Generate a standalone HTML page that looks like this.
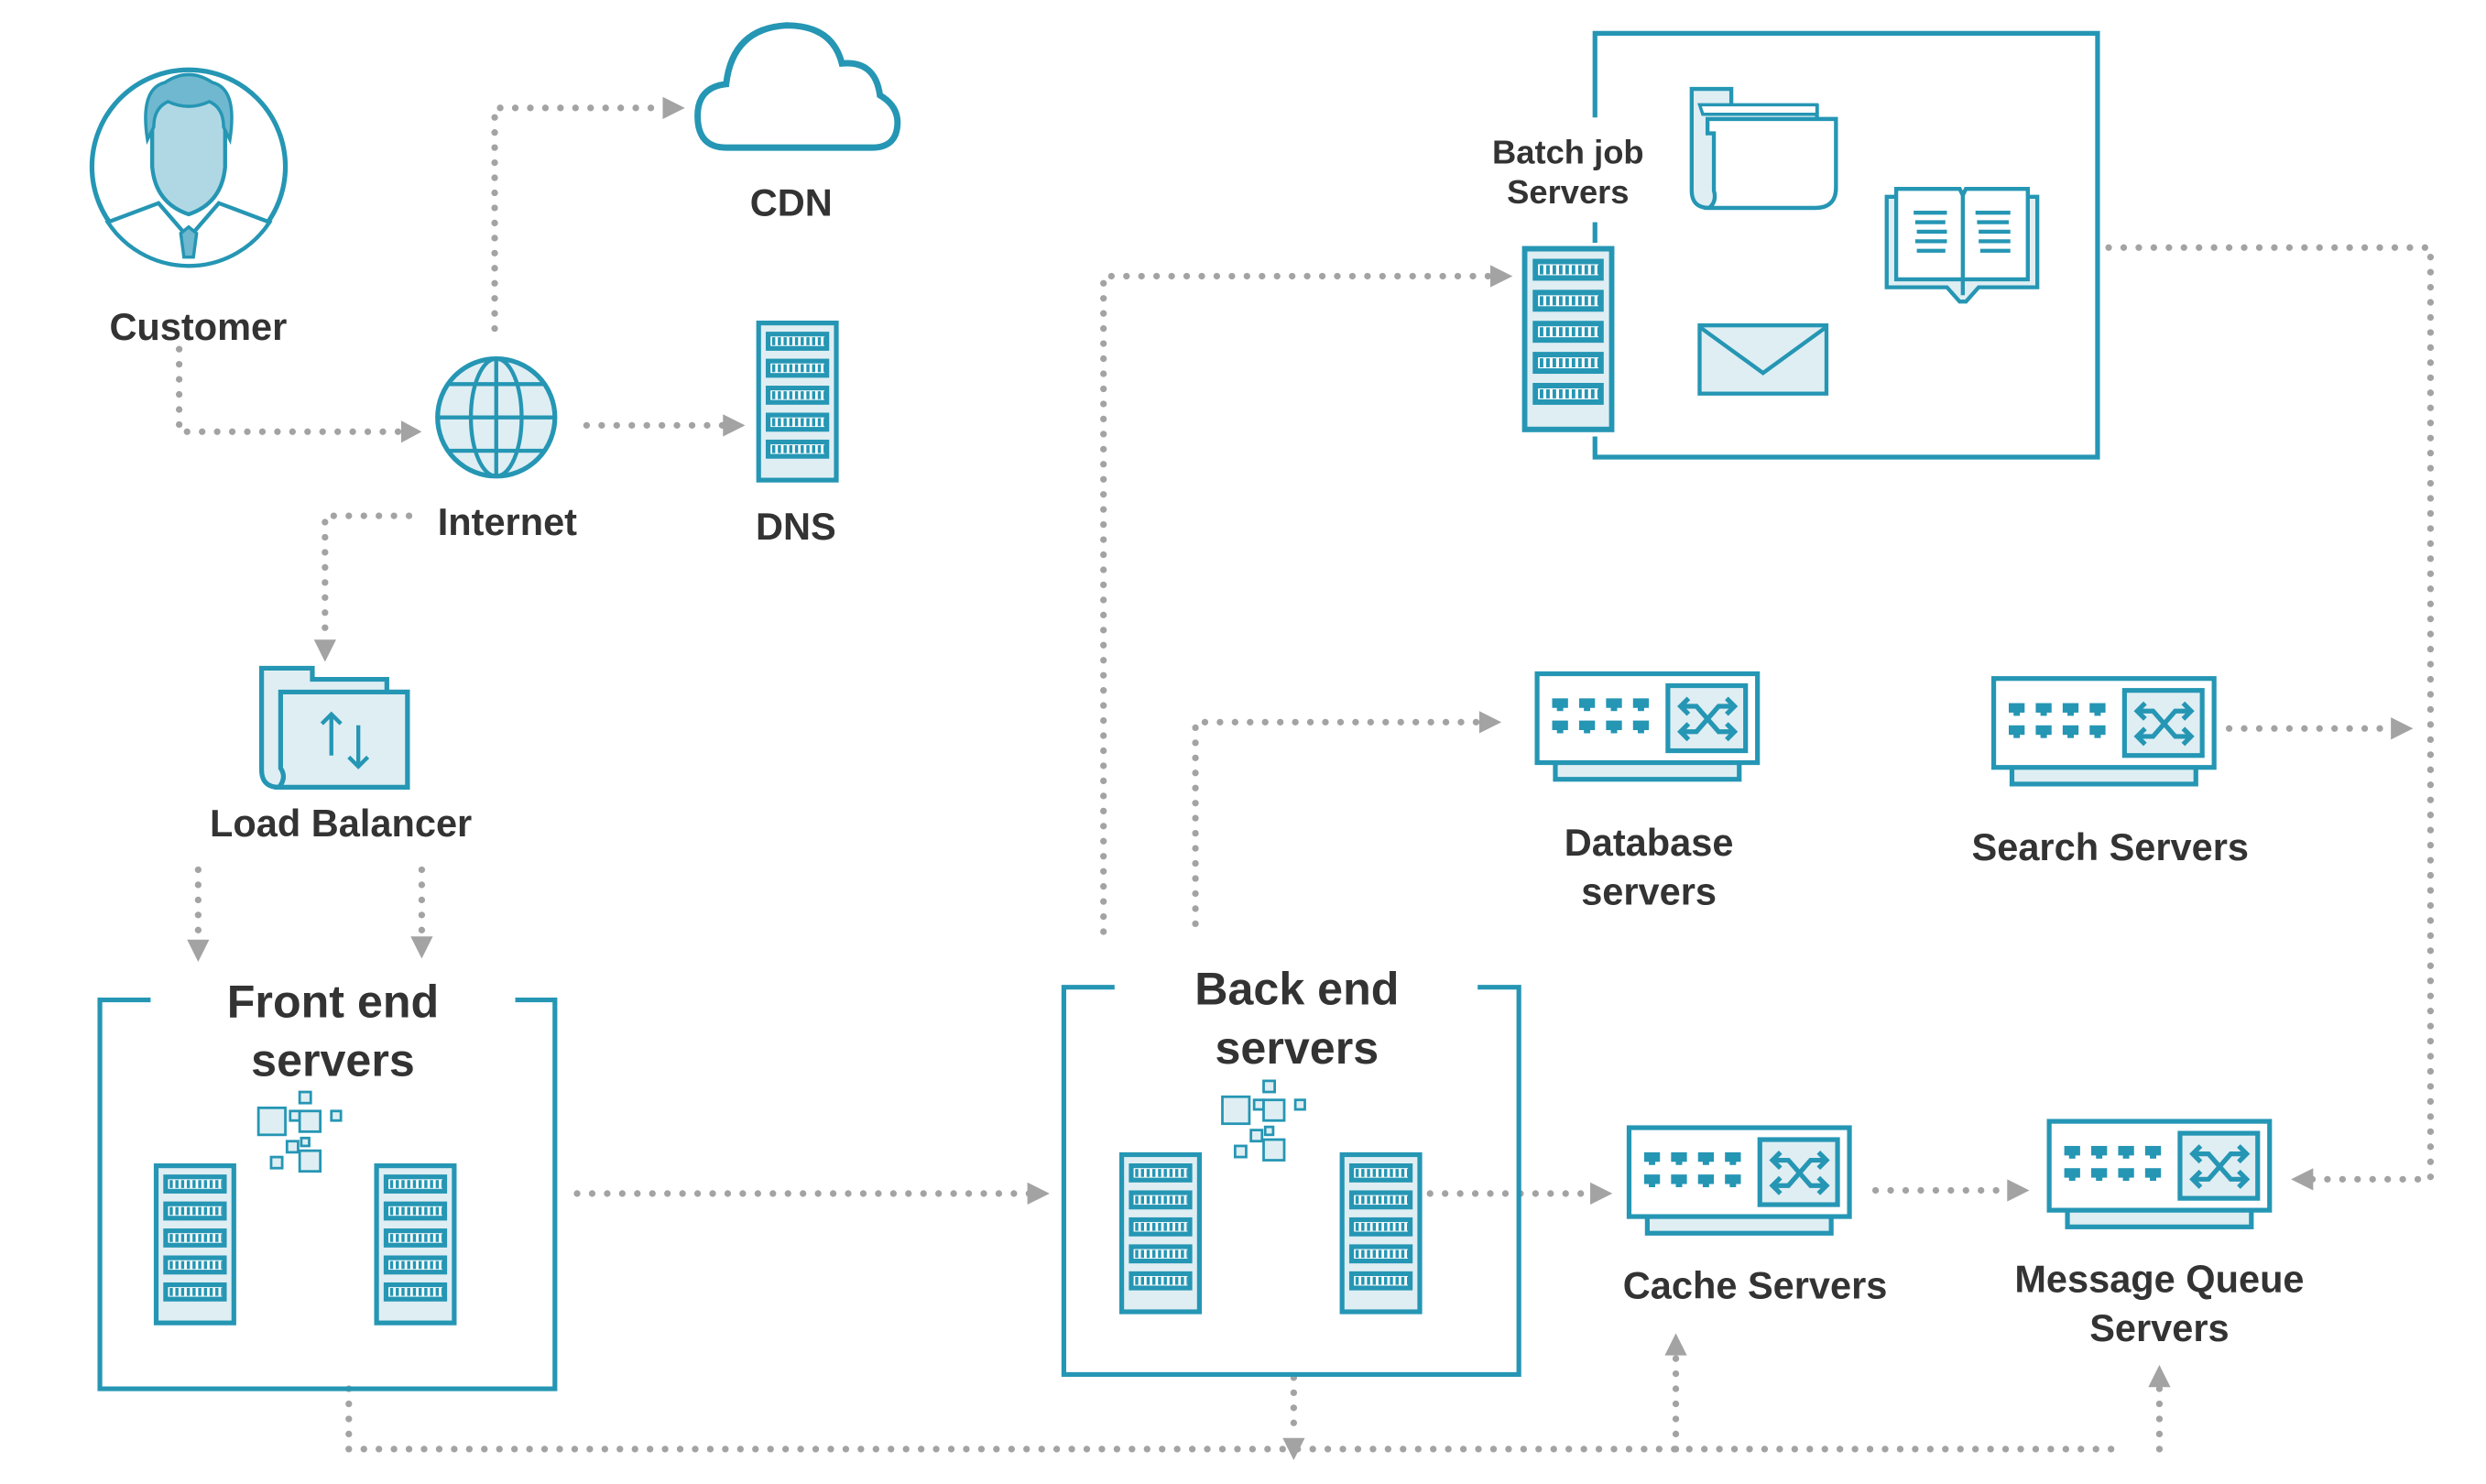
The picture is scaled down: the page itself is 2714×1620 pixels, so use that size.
<!DOCTYPE html>
<html><head><meta charset="utf-8"><style>
html,body{margin:0;padding:0;background:#fff;}
svg{display:block;}
text{font-family:"Liberation Sans",sans-serif;font-weight:bold;fill:#333;text-anchor:middle;}
</style></head><body>
<svg width="2714" height="1620" viewBox="0 0 1568 935" preserveAspectRatio="none" xmlns="http://www.w3.org/2000/svg">
<defs>
<g id="srv">
 <rect x="1.5" y="1.5" width="49" height="99" fill="#dfeef3" stroke="#2596b4" stroke-width="3"/>
 <g id="slot">
  <rect x="6" y="7" width="40" height="12" fill="#2596b4"/>
  <rect x="9" y="10" width="34" height="6" fill="#fff"/>
  <line x1="10" y1="13" x2="43" y2="13" stroke="#2596b4" stroke-width="5" stroke-dasharray="2 1.6"/>
 </g>
 <use href="#slot" y="17"/><use href="#slot" y="34"/><use href="#slot" y="51"/><use href="#slot" y="68"/>
</g>
<g id="sw">
 <rect x="13" y="57" width="116" height="11" fill="#dfeef3" stroke="#2596b4" stroke-width="3"/>
 <rect x="1.5" y="1.5" width="139" height="56" fill="#fff" stroke="#2596b4" stroke-width="3"/>
 <g fill="#2596b4">
  <rect x="11" y="17" width="10" height="6"/><rect x="14" y="22" width="4" height="3"/>
  <rect x="28" y="17" width="10" height="6"/><rect x="31" y="22" width="4" height="3"/>
  <rect x="45" y="17" width="10" height="6"/><rect x="48" y="22" width="4" height="3"/>
  <rect x="62" y="17" width="10" height="6"/><rect x="65" y="22" width="4" height="3"/>
  <rect x="11" y="31" width="10" height="6"/><rect x="14" y="36" width="4" height="3"/>
  <rect x="28" y="31" width="10" height="6"/><rect x="31" y="36" width="4" height="3"/>
  <rect x="45" y="31" width="10" height="6"/><rect x="48" y="36" width="4" height="3"/>
  <rect x="62" y="31" width="10" height="6"/><rect x="65" y="36" width="4" height="3"/>
 </g>
 <rect x="84" y="9" width="49" height="41" fill="#dfeef3" stroke="#2596b4" stroke-width="3"/>
 <g stroke="#2596b4" stroke-width="3" fill="none">
  <path d="M92 22 H102 L116 38 H126 M92 38 H102 L116 22 H126"/>
  <path d="M97 17 L92 22 L97 27 M121 17 L126 22 L121 27 M97 33 L92 38 L97 43 M121 33 L126 38 L121 43"/>
 </g>
</g>
<g id="cluster" fill="#dfeef3" stroke="#2596b4" stroke-width="1.6">
 <rect x="0" y="10" width="17" height="17"/><rect x="20" y="12" width="6" height="6"/>
 <rect x="26" y="0" width="7" height="7"/><rect x="26" y="12" width="13" height="13"/>
 <rect x="46" y="12" width="6" height="6"/><rect x="27" y="29" width="5" height="5"/>
 <rect x="18" y="31" width="7" height="7"/><rect x="26" y="37" width="13" height="13"/>
 <rect x="8" y="41" width="7" height="7"/>
</g>
</defs>

<g fill="none" stroke="#a3a3a3" stroke-width="4.2" stroke-linecap="round" stroke-dasharray="0 9.5">
 <path d="M113 220 V272 H255"/>
 <path d="M312 207 V68 H420"/>
 <path d="M370 268 H458"/>
 <path d="M258 325 H205 V403"/>
 <path d="M125 548 V592"/>
 <path d="M266 548 V590"/>
 <path d="M364 752 H650"/>
 <path d="M696 587 V174 H940"/>
 <path d="M754 582 V455 H934"/>
 <path d="M1330 156 H1533 V743 H1458"/>
 <path d="M1406 459 H1510"/>
 <path d="M902 752 H1005"/>
 <path d="M1183 750 H1268"/>
 <path d="M220 875 V913 H1340"/>
 <path d="M816 868 V905"/>
 <path d="M1057 913 V853"/>
 <path d="M1362 913 V873"/>
</g>
<g fill="#a3a3a3">
 <path d="M253 265 L266 272 L253 279Z"/>
 <path d="M418 61 L432 68 L418 75Z"/>
 <path d="M456 261 L470 268 L456 275Z"/>
 <path d="M198 403 L205 417 L212 403Z"/>
 <path d="M118 592 L125 606 L132 592Z"/>
 <path d="M259 590 L266 604 L273 590Z"/>
 <path d="M648 745 L662 752 L648 759Z"/>
 <path d="M940 167 L954 174 L940 181Z"/>
 <path d="M933 448 L947 455 L933 462Z"/>
 <path d="M1459 736 L1445 743 L1459 750Z"/>
 <path d="M1508 452 L1522 459 L1508 466Z"/>
 <path d="M1003 745 L1017 752 L1003 759Z"/>
 <path d="M1266 743 L1280 750 L1266 757Z"/>
 <path d="M809 906 L816 920 L823 906Z"/>
 <path d="M1050 854 L1057 840 L1064 854Z"/>
 <path d="M1355 874 L1362 860 L1369 874Z"/>
</g>

<circle cx="119" cy="105" r="61" fill="#fff" stroke="#2596b4" stroke-width="3"/>
<path d="M68 140 L100 128 L119 150 L138 128 L170 140 A61 61 0 0 1 68 140Z" fill="#fff" stroke="#2596b4" stroke-width="2.5"/>
<path d="M96 75 Q96 55 119 55 Q142 55 142 75 L142 105 Q140 128 119 135 Q98 128 96 105Z" fill="#b0d8e4" stroke="#2596b4" stroke-width="2.5"/>
<path d="M93 88 Q88 56 104 52 Q119 42 134 52 Q150 56 145 88 L141 80 Q141 68 132 64 Q119 70 106 64 Q97 68 97 80Z" fill="#6fb8cf" stroke="#2596b4" stroke-width="2"/>
<path d="M114 147 L119 143 L124 147 L122 162 L116 162Z" fill="#6fb8cf" stroke="#2596b4" stroke-width="2"/>
<text x="125" y="214" font-size="24">Customer</text>

<path d="M458 93 Q440 93 440 73 Q440 55 458 53 Q462 18 496 16 Q525 16 531 40 Q552 38 555 60 Q567 67 566 79 Q565 93 550 93 Z" fill="#fff" stroke="#2596b4" stroke-width="4"/>
<text x="499" y="136" font-size="24">CDN</text>

<circle cx="313" cy="263" r="37" fill="#dfeef3" stroke="#2596b4" stroke-width="3"/>
<g fill="none" stroke="#2596b4" stroke-width="2.5">
 <ellipse cx="313" cy="263" rx="16" ry="37"/>
 <line x1="313" y1="226" x2="313" y2="300"/>
 <line x1="276" y1="263" x2="350" y2="263"/>
 <line x1="282" y1="242" x2="344" y2="242"/>
 <line x1="282" y1="284" x2="344" y2="284"/>
</g>
<text x="320" y="337" font-size="24">Internet</text>

<use href="#srv" transform="translate(477,202)"/>
<text x="502" y="340" font-size="24">DNS</text>

<path d="M165 421 H197 V428 H244 V436 H257 V496 H176 Q165 496 165 485 Z" fill="#dfeef3" stroke="#2596b4" stroke-width="3"/>
<path d="M177 436 H257 V496 H176 Q181 490 177 484 Z" fill="#dfeef3" stroke="#2596b4" stroke-width="3"/>
<g stroke="#2596b4" stroke-width="2.5" fill="none">
 <path d="M209 476 V450 M203 456 L209 450 L215 456"/>
 <path d="M226 457 V483 M220 477 L226 483 L232 477"/>
</g>
<text x="215" y="527" font-size="24">Load Balancer</text>

<path d="M95 630 H63 V875 H350 V630 H325" fill="none" stroke="#2596b4" stroke-width="3"/>
<text x="210" y="641" font-size="29">Front end</text>
<text x="210" y="678" font-size="29">servers</text>
<use href="#cluster" transform="translate(163,688)"/>
<use href="#srv" transform="translate(97,733)"/>
<use href="#srv" transform="translate(236,733)"/>

<path d="M703 622 H671 V866 H958 V622 H932" fill="none" stroke="#2596b4" stroke-width="3"/>
<text x="818" y="633" font-size="29">Back end</text>
<text x="818" y="670" font-size="29">servers</text>
<use href="#cluster" transform="translate(771,681)"/>
<use href="#srv" transform="translate(706,726)"/>
<use href="#srv" transform="translate(845,726)"/>

<path d="M1006 74 V21 H1323 V288 H1006 V275" fill="none" stroke="#2596b4" stroke-width="3"/>
<line x1="1006" y1="140" x2="1006" y2="153" stroke="#2596b4" stroke-width="3"/>
<text x="989" y="103" font-size="21">Batch job</text>
<text x="989" y="128" font-size="21">Servers</text>
<g transform="translate(960,155) scale(1.12,1.15)"><use href="#srv"/></g>
<path d="M1067 56 H1092 V67 H1146 V75 H1158 V118 Q1158 131 1145 131 H1078 Q1067 131 1067 120 Z" fill="#dfeef3" stroke="#2596b4" stroke-width="2.5"/>
<path d="M1072 66 H1146 V72 H1074 Z" fill="#fff" stroke="#2596b4" stroke-width="2"/>
<path d="M1077 75 H1158 V118 Q1158 131 1145 131 H1078 Q1083 127 1081 120 V84 H1077 Z" fill="#fff" stroke="#2596b4" stroke-width="2.5"/>
<path d="M1190 124 H1196 V119 H1236 L1238 123 L1240 119 H1279 V124 H1285 V181 H1248 L1240 190 H1236 L1228 181 H1190 Z" fill="#dfeef3" stroke="#2596b4" stroke-width="2.5"/>
<path d="M1196 119 H1236 L1238 123 L1240 119 H1279 V176 H1196 Z" fill="#fff" stroke="#2596b4" stroke-width="2.5"/>
<line x1="1238" y1="123" x2="1238" y2="186" stroke="#2596b4" stroke-width="2.5"/>
<g stroke="#2596b4" stroke-width="2.5">
 <path d="M1207 134 H1228 M1208 140 H1227 M1209 146 H1228 M1208 152 H1228 M1209 158 H1227"/>
 <path d="M1246 134 H1268 M1247 140 H1267 M1248 146 H1268 M1248 152 H1268 M1249 158 H1268"/>
</g>
<rect x="1072" y="205" width="80" height="43" fill="#dfeef3" stroke="#2596b4" stroke-width="2.5"/>
<path d="M1072 206 L1112 235 L1152 206" fill="none" stroke="#2596b4" stroke-width="2.5"/>

<use href="#sw" transform="translate(968,423)"/>
<text x="1040" y="539" font-size="24">Database</text>
<text x="1040" y="570" font-size="24">servers</text>
<use href="#sw" transform="translate(1256,426)"/>
<text x="1331" y="542" font-size="24">Search Servers</text>
<use href="#sw" transform="translate(1026,709)"/>
<text x="1107" y="818" font-size="24">Cache Servers</text>
<use href="#sw" transform="translate(1291,705)"/>
<text x="1362" y="814" font-size="24">Message Queue</text>
<text x="1362" y="845" font-size="24">Servers</text>
</svg>
</body></html>
